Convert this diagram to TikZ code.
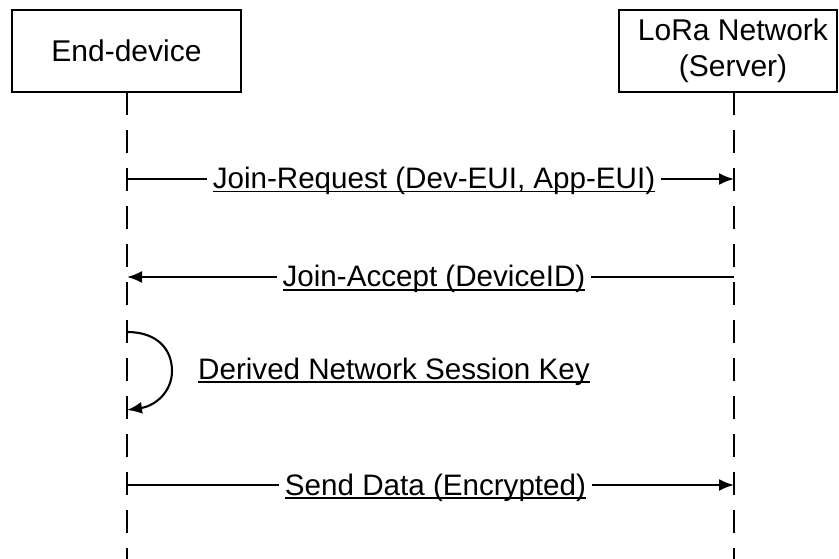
\documentclass[tikz,border=0pt]{standalone}
\usepackage{fontspec}
\setmainfont{Liberation Sans}
\usetikzlibrary{arrows.meta}
\newcommand\ulab[1]{\setbox0\hbox{#1}\rlap{\rule[-3.5pt]{\wd0}{1.4pt}}\box0}
\tikzset{
  actor/.style={draw, line width=2.4pt, minimum height=82pt, align=center,
    font=\fontsize{30}{36}\selectfont, inner sep=0pt},
  life/.style={line width=2.7pt, dash pattern=on 23pt off 15pt},
  msg/.style={line width=2.1pt, -{Latex[length=15pt,width=12pt]}},
  lab/.style={fill=white, inner xsep=6pt, inner ysep=2pt, anchor=base,
    font=\fontsize{29.6}{33}\selectfont},
}
\begin{document}
\begin{tikzpicture}[x=1pt,y=-1pt]
\useasboundingbox (0,0) rectangle (839,559);
\node[actor, minimum width=229pt] (ed) at (126.5,51) {End-device};
\node[actor, minimum width=218pt] (srv) at (728,51) {\hspace*{10pt}LoRa Network\\\hspace*{10pt}(Server)};
\coordinate (edend) at (127,559);
\coordinate (srvend) at (734,559);
\draw[life] (127,92) -- (edend);
\draw[life] (734,92) -- (srvend);
% message points
\coordinate (m1a) at (127,179);
\coordinate (m1b) at (734,179);
\coordinate (m2a) at (734,277);
\coordinate (m2b) at (127,277);
\coordinate (s1) at (127,332);
\coordinate (s2) at (127,410);
\coordinate (m4a) at (127,485);
\coordinate (m4b) at (734,485);
\draw[msg] (m1a) -- (m1b);
\node[lab] (l1) at (434,189) {\ulab{Join-Request (Dev-EUI, App-EUI)}};
\draw[msg] (m2a) -- (m2b);
\node[lab] (l2) at (434,287) {\ulab{Join-Accept (DeviceID)}};
\draw[msg] (s1) .. controls (158,332) and (172,350) .. (172,371) .. controls (172,392) and (155,406) .. (s2);
\node[lab, anchor=base west, inner xsep=0pt] (l3) at (198,379) {\ulab{Derived Network Session Key}};
\draw[msg] (m4a) -- (m4b);
\node[lab] (l4) at (435.5,495) {\ulab{Send Data (Encrypted)}};
\end{tikzpicture}
\end{document}
